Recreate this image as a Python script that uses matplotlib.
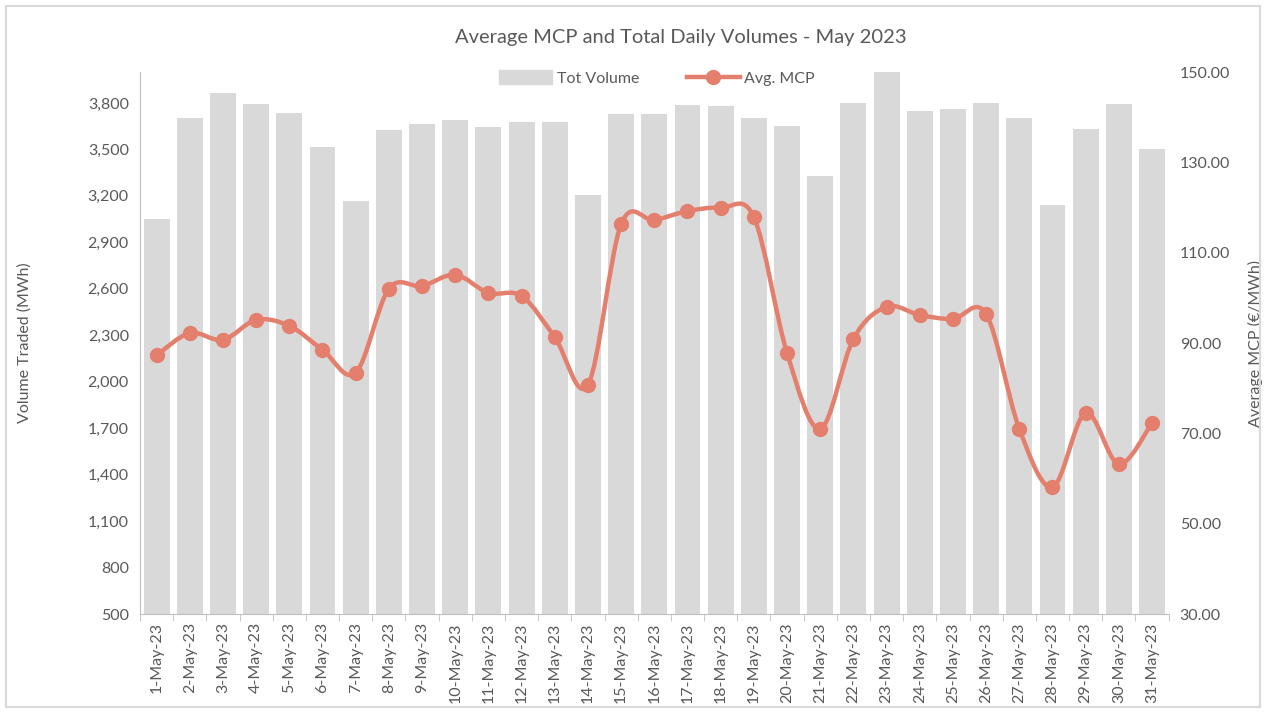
import matplotlib
matplotlib.use("Agg")
import matplotlib.pyplot as plt
import numpy as np
from matplotlib.path import Path
from matplotlib.patches import PathPatch, Rectangle
from matplotlib.ticker import FuncFormatter, FixedLocator
from matplotlib.lines import Line2D

plt.rcParams['font.family'] = ['Lato', 'DejaVu Sans']

days = [f"{d}-May-23" for d in range(1, 32)]
tot_volume = [3051, 3703, 3865, 3794, 3736, 3516, 3167, 3626, 3665, 3690,
              3645, 3678, 3678, 3206, 3729, 3729, 3787, 3781, 3703, 3652,
              3329, 3800, 4000, 3749, 3762, 3800, 3703, 3141, 3632, 3794, 3503]
avg_mcp = [87.3, 92.2, 90.7, 95.1, 93.8, 88.5, 83.4, 102.0, 102.6, 105.1,
           101.1, 100.4, 91.3, 80.7, 116.3, 117.2, 119.2, 119.9, 117.9, 87.8,
           71.0, 90.9, 98.0, 96.2, 95.3, 96.4, 71.0, 58.1, 74.5, 63.2, 72.3]

bar_col = '#D9D9D9'
line_col = '#E47F6D'
txt_col = '#595959'

fig = plt.figure(figsize=(12.66, 7.13), dpi=100)
ax = fig.add_axes([140 / 1266, 1 - 614 / 713, (1168.6 - 140) / 1266, (614 - 72) / 713])
x = np.arange(len(days))
ax.bar(x, tot_volume, width=0.78, color=bar_col, zorder=1)
ax.set_xlim(-0.5, len(days) - 0.5)
ax.set_ylim(500, 4000)
ax.set_yticks(range(500, 3801, 300))
ax.yaxis.set_major_formatter(FuncFormatter(lambda v, p: f"{int(v):,}"))
ax.set_xticks(x)
ax.set_xticklabels(days, rotation=90)
ax.xaxis.set_minor_locator(FixedLocator(np.arange(-0.5, len(days), 1)))
ax.tick_params(axis='x', which='major', length=0, pad=6, labelsize=11.5, labelcolor=txt_col)
ax.tick_params(axis='x', which='minor', length=5, color='#BFBFBF')
ax.tick_params(axis='y', length=0, labelsize=11.5, labelcolor=txt_col, pad=8)
for s in ['top', 'right']:
    ax.spines[s].set_visible(False)
for s in ['left', 'bottom']:
    ax.spines[s].set_color('#BFBFBF')
ax.set_ylabel("Volume Traded (MWh)", color=txt_col, fontsize=11.5)
ax.yaxis.set_label_coords(-0.105, 0.5)

ax2 = ax.twinx()
ax2.set_ylim(30, 150)
ax2.set_yticks(range(30, 151, 20))
ax2.yaxis.set_major_formatter(FuncFormatter(lambda v, p: f"{v:.2f}"))
ax2.tick_params(axis='y', length=0, labelsize=11.5, labelcolor=txt_col, pad=8)
for s in ax2.spines.values():
    s.set_visible(False)
ax2.set_ylabel("Average MCP (€/MWh)", color=txt_col, fontsize=11.5)
ax2.yaxis.set_label_coords(1.077, 0.5)

# smoothed line (Excel-style Catmull-Rom bezier)
pts = np.column_stack([x, avg_mcp])
verts = [tuple(pts[0])]
codes = [Path.MOVETO]
n = len(pts)
for i in range(n - 1):
    p0 = pts[i - 1] if i > 0 else pts[i]
    p1 = pts[i]
    p2 = pts[i + 1]
    p3 = pts[i + 2] if i + 2 < n else pts[i + 1]
    c1 = p1 + (p2 - p0) / 6
    c2 = p2 - (p3 - p1) / 6
    verts += [tuple(c1), tuple(c2), tuple(p2)]
    codes += [Path.CURVE4] * 3
ax2.add_patch(PathPatch(Path(verts, codes), facecolor='none', edgecolor=line_col,
                        lw=3.2, capstyle='round', joinstyle='round', zorder=3))
ax2.plot(x, avg_mcp, linestyle='none', marker='o', markersize=10,
         color=line_col, zorder=4)

fig.text(681 / 1266, 1 - 38 / 713, "Average MCP and Total Daily Volumes - May 2023",
         ha='center', va='center', fontsize=14.5, color=txt_col)

handles = [Rectangle((0, 0), 1, 1, color=bar_col),
           Line2D([], [], color=line_col, lw=3.2, marker='o', markersize=10)]
fig.legend(handles, ["Tot Volume", "Avg. MCP"], loc='center',
           bbox_to_anchor=(657 / 1266, 1 - 78 / 713), ncol=2, frameon=False,
           fontsize=11.5, labelcolor=txt_col, handlelength=3.3, handletextpad=0.3,
           columnspacing=3.0, handleheight=0.9)

fig.patches.append(Rectangle((6 / 1266, 6 / 713), 1 - 12 / 1266, 1 - 12 / 713,
                             transform=fig.transFigure, fill=False,
                             edgecolor='#D9D9D9', lw=1.5))

fig.savefig("out.png", dpi=100)
